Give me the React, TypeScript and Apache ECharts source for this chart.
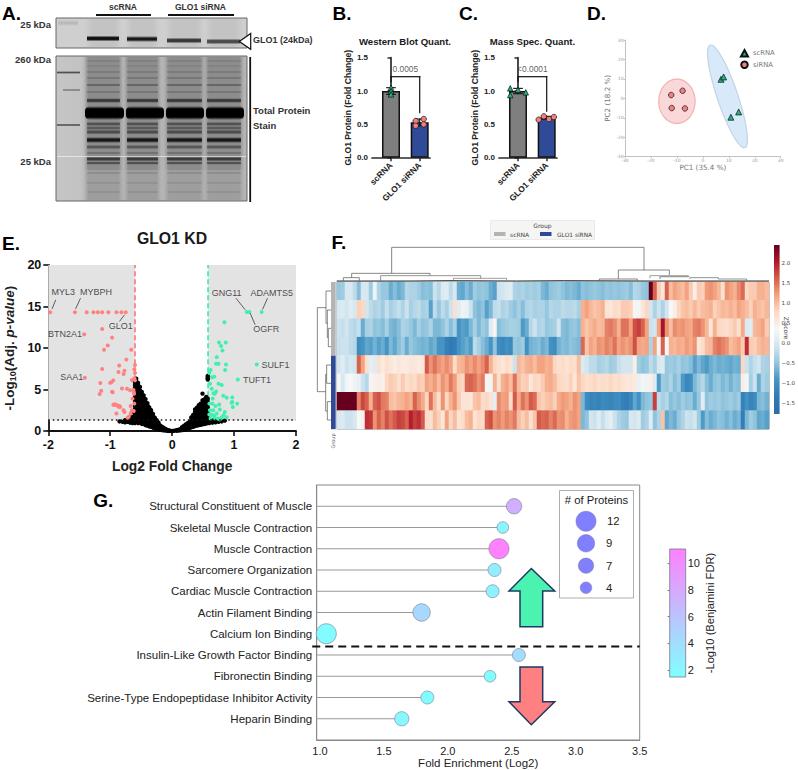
import React, { useEffect, useRef } from "react";
import * as echarts from "echarts";

const SANS = "Liberation Sans, Arial, sans-serif";
const DEJA = "DejaVu Sans, sans-serif";

// ---------- Panels B / C ----------
const barCategories = ["scRNA", "GLO1 siRNA"];
const wbMeans = [1.0, 0.53];
const wbErrors = [0.05, 0.05];
const wbScPoints = [[0, 1.05], [0, 1.0], [0, 0.95]];
const wbSiPoints = [[0.86, 0.55], [1.14, 0.58], [0.86, 0.48], [1.14, 0.5]];
const msMeans = [1.0, 0.6];
const msErrors = [0.04, 0.02];
const msScPoints = [[-0.27, 1.04], [-0.27, 0.94], [0, 1.02], [0.27, 0.98]];
const msSiPoints = [[0.72, 0.57], [0.9, 0.62], [1.08, 0.58], [1.25, 0.61]];

// ---------- Panel D ----------
const pcaScrna = [[7, 9.8], [8, 11], [10.8, -9.7], [13.8, -7]];
const pcaSirna = [[-12.2, 1.7], [-7.8, 3.9], [-12, -5], [-6.9, -5.2]];

// ---------- Panel E ----------
const blackColumns: [number, number[]][] = [
  [-0.85, [1.15]], [-0.8, [1.1]], [-0.76, [1.05, 1.3]], [-0.72, [1.1, 1.4]], [-0.68, [1.0, 1.2, 1.6]],
  [-0.64, [0.95, 1.3, 1.7, 2.3]],
  [-0.6, [0.95, 1.3, 1.65, 2, 2.35, 2.7, 3.05, 3.4, 3.75, 4.1, 4.45, 4.8, 5.15, 5.5, 5.85, 6.1]],
  [-0.58, [1.1, 1.5, 1.85, 2.2, 2.55, 2.9, 3.25, 3.6, 3.95, 4.3, 4.65, 5, 5.35, 5.7, 6, 6.3]],
  [-0.55, [0.95, 1.3, 1.65, 2, 2.35, 2.7, 3.05, 3.4, 3.75, 4.1, 4.45, 4.8, 5.15, 5.5, 5.8]],
  [-0.52, [1, 1.35, 1.7, 2.1, 2.5, 2.85, 3.2, 3.55, 3.9, 4.25, 4.6, 4.9, 5.3]],
  [-0.49, [0.85, 1.2, 1.55, 1.9, 2.3, 2.65, 3, 3.35, 3.7, 4.05, 4.35, 4.7]],
  [-0.46, [0.85, 1.2, 1.6, 1.95, 2.3, 2.65, 3, 3.35, 3.7, 4, 4.3]],
  [-0.43, [0.7, 1.05, 1.4, 1.75, 2.1, 2.45, 2.8, 3.15, 3.5, 3.85]],
  [-0.4, [0.65, 1, 1.35, 1.7, 2.05, 2.4, 2.75, 3.1, 3.35]],
  [-0.37, [0.55, 0.9, 1.25, 1.6, 1.95, 2.3, 2.65, 2.85]],
  [-0.34, [0.5, 0.85, 1.2, 1.55, 1.9, 2.25, 2.5]],
  [-0.31, [0.4, 0.75, 1.1, 1.45, 1.8, 2.05]],
  [-0.28, [0.35, 0.7, 1.05, 1.35, 1.6]],
  [-0.25, [0.3, 0.6, 0.9, 1.2, 1.3]], [-0.22, [0.2, 0.5, 0.8, 1.0]], [-0.19, [0.15, 0.4, 0.65]],
  [-0.16, [0.1, 0.3, 0.5]], [-0.13, [0.08, 0.2, 0.35]], [-0.1, [0.05, 0.15, 0.22]], [-0.07, [0.03, 0.1]],
  [-0.04, [0.01, 0.05]], [0, [0]], [0.03, [0.02]], [0.07, [0.04, 0.1]], [0.1, [0.05, 0.14]], [0.13, [0.08, 0.22]],
  [0.16, [0.12, 0.3, 0.45]], [0.19, [0.15, 0.4, 0.6]], [0.22, [0.2, 0.45, 0.8]], [0.25, [0.3, 0.6, 0.95]],
  [0.28, [0.35, 0.7, 1.1]],
  [0.31, [0.45, 0.8, 1.15, 1.5, 1.65]], [0.34, [0.5, 0.85, 1.2, 1.55, 1.95]],
  [0.37, [0.6, 0.95, 1.3, 1.65, 2.0, 2.3, 2.6]], [0.4, [0.65, 1, 1.35, 1.7, 2.05, 2.4, 2.8]],
  [0.43, [0.7, 1.05, 1.4, 1.75, 2.15, 2.5, 2.8, 3.1]], [0.46, [0.75, 1.1, 1.45, 1.8, 2.2, 2.55, 2.9, 3.3]],
  [0.49, [0.8, 1.15, 1.5, 1.85, 2.25, 2.6, 3.0, 3.35, 3.7, 4.5]], [0.52, [0.85, 1.2, 1.55, 1.9, 2.3, 2.65, 3.0, 3.4, 3.8]],
  [0.55, [0.9, 1.25, 1.6, 2, 2.35, 2.7, 3.05, 3.45, 3.85, 4.1]],
  [0.575, [1, 1.4, 1.8, 2.15, 2.5, 2.85, 3.2, 3.55, 3.9, 6.2, 6.35, 6.5, 6.65]],
  [0.6, [0.95, 1.2]], [0.65, [1.0, 1.3]], [0.7, [1.05, 1.25]], [0.75, [1.1, 1.3]], [0.8, [1.15]], [0.85, [1.25]],
];
const volcanoDown = [
  [-1.97, 14.3], [-1.57, 14.3], [-1.38, 14.3], [-1.27, 14.3], [-1.2, 14.3], [-1.13, 14.3], [-1.03, 14.3], [-0.9, 14.3],
  [-0.82, 14.3], [-0.75, 14.3], [-1.42, 11.65], [-1.13, 12.3], [-0.97, 11.25], [-1.04, 10.3], [-1.1, 9.8], [-0.66, 9.8],
  [-0.74, 8.6], [-0.855, 7.9], [-0.6, 7.95], [-1.13, 7.47], [-0.61, 7.43], [-0.77, 7.26], [-0.866, 7.1], [-0.785, 6.87],
  [-0.6, 7], [-1.41, 6.42], [-0.61, 6.35], [-0.95, 6.1], [-0.98, 5.87], [-1.16, 5.78], [-0.65, 6.15], [-1.145, 4.85],
  [-1.17, 4.45], [-0.97, 4.73], [-0.81, 5.13], [-0.73, 5.1], [-0.68, 4.9], [-0.93, 3.2], [-0.89, 3.1], [-0.84, 2.9],
  [-0.785, 2.5], [-0.9, 2.1], [-0.72, 1.6], [-0.67, 3], [-0.64, 3.9], [-0.65, 2.5], [-0.62, 4.7], [-0.6, 6.1], [-1, 5.82],
  [-0.96, 4.66], [-0.92, 3.2], [-0.865, 2.93], [-0.7, 1.72], [-0.625, 4.94], [-0.615, 4.5], [-0.61, 3.3], [-0.67, 2.1],
  [-0.62, 2.4], [-0.85, 3.0], [-0.77, 2.3], [-0.95, 3.15],
];
const volcanoUp = [
  [1.205, 14.34], [1.247, 14.34], [1.446, 14.34], [0.844, 13.1], [0.758, 10.65], [0.866, 10.65], [0.79, 10.25], [0.812, 9.7],
  [0.72, 8.9], [0.71, 8.1], [0.748, 8.1], [0.87, 8.0], [1.366, 8.0], [0.855, 7.35], [0.62, 7.35], [0.6, 7.0], [0.68, 6.55],
  [0.64, 6.46], [1.06, 6.2], [0.748, 5.7], [0.8, 5.55], [0.61, 5.7], [0.64, 5.1], [0.71, 4.75], [0.667, 4.55], [0.827, 4.25],
  [0.88, 4.0], [0.97, 4.05], [0.97, 3.5], [1.05, 3.3], [0.655, 3.9], [0.76, 3.2], [0.6, 3.3], [0.98, 2.9], [0.69, 4.5],
  [0.665, 2.5], [0.72, 2.1], [0.85, 2.3], [0.88, 1.65], [0.83, 1.9], [0.8, 1.65], [0.695, 1.5], [0.64, 1.95], [0.61, 2.5],
  [0.65, 3.3], [0.74, 1.5], [0.77, 1.4], [0.62, 1.5], [0.96, 3.4], [0.7, 3.0], [0.6, 2.0], [0.68, 1.8], [0.77, 2.6],
];
const volcanoLabels = [
  { name: "MYL3", value: [-1.76, 16.7] }, { name: "MYBPH", value: [-1.23, 16.7] }, { name: "GLO1", value: [-0.83, 12.6] },
  { name: "BTN2A1", value: [-1.73, 11.65] }, { name: "SAA1", value: [-1.62, 6.5] }, { name: "GNG11", value: [0.88, 16.6] },
  { name: "ADAMTS5", value: [1.61, 16.6] }, { name: "OGFR", value: [1.52, 12.3] }, { name: "SULF1", value: [1.67, 8.0] },
  { name: "TUFT1", value: [1.37, 6.2] },
];
const volcanoLeaders = [
  [-1.88, 15.8, -1.94, 14.7], [-1.48, 16, -1.56, 14.7], [-0.77, 14, -0.85, 13.2],
  [1.03, 16, 1.18, 14.6], [1.54, 16, 1.46, 14.65], [1.26, 14.2, 1.34, 12.8],
];

// ---------- Panel F ----------
const heatRow0 = [-.45,-.4,0,0,-.2,-.55,0,0,-.4,.25,-.3,-.45,-.45,-.7,-.55,-.7,-.6,-.25,-.3,-.3,-.4,-.55,-.5,-.55,-.1,-.25,.05,.1,-.2,0,-.7,-.75,-.55,-.7,-.4,-.5,-.45,-.5,-.7,-.8,-.1,-.05,.05,.1,-.3,-.35,-.3,-.4,-.35,-.4,-.35,-.6,-.7,-.5,-.45,-.4,-.5,-.6,-.55,-.6,-.7,-.5,-.55,-.5,-.45,-.5,-.55,-.45,-.5,-.45,-.5,-.45,-.4,-.55,-.25,-.3,-.45,-.5,2.45,1.6,.9,.6,1.6,1,1.2,1.1,1,1.2,.9,.5,.9,.85,1.25,1.3,1.2,1.05,.7,1.3,1.2,1.1,1.35,1.55,.8,.9,.9,1.1,1.1,1];
const heatRow1 = [0,.05,-.05,.1,0,.85,.8,-.05,-.2,-.3,-.25,-.4,-.15,-.35,-.25,-.15,-.3,-.1,-.35,-.25,-.2,-.35,-.3,-.8,-.2,-.45,-.2,-.35,-.1,.7,.1,.25,.2,-.1,-.5,-.6,-.5,-.8,-.6,-.2,-.15,-.3,-.25,-.4,-.5,-.35,-.55,-.3,-.25,-.35,-.3,-.3,-.45,-.25,-.3,-.3,-.2,-.25,-.25,-.2,-.35,1.1,1.2,1.05,.95,1,1.1,.65,.6,.75,.7,.9,.9,.85,.4,.3,.6,.8,-.05,-.3,-.1,-.3,-.05,.35,.5,.8,.95,1,.9,1.05,.9,1,1.05,1.1,.85,.95,1.05,1,1.1,1,1.2,1.1,1,.85,1.1,1,.95,1.05];
const heatRow2 = [-.1,-.15,-.05,-.2,-.25,-.15,-.7,-.35,-.3,-.5,-.45,-.55,-.35,-.6,-.65,-.55,-.3,-.35,-.45,-.6,-.35,-.5,-.45,-.3,-.6,-.6,-.5,-.3,-.55,-.35,-.9,-.8,-.85,-.6,-.35,-.6,-.4,-.5,.1,.4,-.55,-.45,-.4,-.35,-.35,-.4,-.85,-.7,-.25,-.1,-.3,-.25,-.45,-.4,-.35,-.05,-.55,-.6,-.5,-.45,-.55,1.1,.95,1.05,1.15,1,1.05,1.4,1.45,1.35,1.1,1.5,1.5,1.2,1.7,1.8,1.6,1.2,-.1,-.05,1.2,2.1,1.3,1,1.35,1.25,1.3,1.2,1.15,1.4,1.45,1.3,1.05,.6,1.1,.8,.75,.7,.8,.9,.7,1.15,.05,.1,1.05,1.1,1.2,.9];
const heatRow3 = [-.15,-.1,-.1,-.2,-.25,-1,-.9,-.75,-.8,-.65,-.8,-.7,-.9,-.6,-.75,-.55,-.4,-.7,-.45,-.55,-.6,-.65,-.6,-.75,-.65,-.9,-.9,-1.2,-1.3,-1.25,-.9,-.8,-.7,-.85,-.2,-.35,-.55,-.7,-.9,-.5,-1,-1.1,-.95,-1.05,-.45,-.5,-.4,-.95,-.65,-.6,-.55,-.7,-.6,-.95,-1,-.65,-.55,-.6,-.5,-.55,-.6,1.55,.95,1.2,1.1,1.3,1.25,1.4,1.3,1.5,1.2,1.3,1.2,1.3,1.7,1.2,1.15,1.2,-.3,1.2,.4,1.6,.35,1.1,1.05,1.15,1.1,1.25,1.15,1.3,.6,.75,1,1.05,1.4,1.5,1.4,1.3,1,1.1,1.2,.9,1.9,.9,.85,1,1.1,1.05];
const heatRow4 = [-.05,.1,-.1,0,-.05,1.6,1.2,.7,.15,.1,.7,.55,.7,.6,.5,.6,.55,.55,.6,.6,.55,.6,1.65,1.3,1.5,1.3,1.2,1.35,1.2,.75,1.05,1.1,1.3,1.2,1.35,1.2,1.35,1.6,1.1,.8,.7,.6,.75,.65,-.1,1.05,.95,1.1,1.15,1,1.2,1.2,1.1,1.15,.8,.7,.75,.65,.75,.7,1,.05,-.05,-.2,-.2,-.35,-.3,-.25,-.4,-.35,-.15,-.05,-.05,-.05,.5,-.4,-.5,-.45,-.2,-.35,0,.05,-.45,-.4,-.45,-.35,-.5,-.45,-.55,-.8,-.6,-.75,-.85,-.7,-.6,-.7,-.65,-.7,-.75,-.65,-.7,.8,-.1,-.3,-.15,-.05,-.3,-.35];
const heatRow5 = [.3,0,.3,.35,.25,.2,-.1,-.25,.4,.45,.5,.45,.8,.9,.85,.7,.9,.7,.8,.75,.9,.85,1.2,1.1,1.25,1,1.3,1.15,1.45,1.25,.85,.8,1.55,1.6,1.5,1.3,1.45,.4,.3,1.1,.7,1.1,1.2,1,1.5,1,.85,.9,.6,.8,.75,.9,1.1,1.15,1,.8,.75,.7,.85,.6,.95,.8,.7,.75,.8,.7,.75,.7,.8,.7,.75,.65,.6,.6,.55,.2,.3,.25,.5,.05,-.85,-.4,-.45,-.3,-.55,-.4,-.85,-1.1,-1,-.6,-.4,-.25,-.55,-.7,-.5,-.45,-.6,-.5,-.65,-.5,-.55,.5,.3,-.35,-.1,-.7,-.3,-.4];
const heatRow6 = [2.45,2.45,2.45,2.45,2.45,1.4,1.75,1.6,1.1,1.6,1.7,1.45,1.4,1,.95,1.05,1.1,1.2,1.1,1.6,1.35,1.15,.8,1.5,1,.7,1.3,.8,1.1,1.3,.9,.65,.65,.6,.95,1,.75,.8,.65,.15,1.35,1.2,1.25,.75,1.65,1.15,1.5,1.3,1.65,1.55,.95,.85,.95,1,.85,1.15,1.25,1.2,1.1,1.3,1.2,-.6,-1,-1.15,-1.1,-1.2,-1.05,-1.1,-1.15,-1.05,-1,-1.2,-1.25,-1.1,-.75,-.95,-.6,-.5,-.45,1.8,-.2,-.35,-.25,-.55,-.45,-.55,-.4,-.5,-.45,-.7,-.45,.1,-.5,-.4,-.45,-.4,-.5,-.45,-.4,-.5,-.4,-1.2,-.95,-1.15,-1.05,-.6,-.55,-.65];
const heatRow7 = [0,.05,-.1,-.1,0,.35,.45,1.9,1.85,1.3,1.6,1.4,1.7,1.5,1.65,1.8,1.75,1.6,2,1.8,1.9,1.65,.75,.7,1,.85,.6,1.2,.8,1,.65,.75,1,1.1,.65,.8,.75,1.6,1.7,1.3,1.4,1.25,1.4,1.3,1.45,1,.85,1,.7,.95,1.65,1.55,1.6,1.4,1.55,1.3,1.35,1.1,1.25,1.3,1.2,-.6,-.5,-.05,-.1,.1,-.15,.05,.15,-.1,-.3,-.4,-.45,0,-.05,.05,-.4,-.3,.1,-.5,-.3,.95,-.75,-.6,-.7,-.45,-.3,-.1,-.15,-.05,-.4,-.85,-.55,-.7,-.6,-.5,-.55,-.65,-.55,-.7,-.6,-1.25,-.6,-.4,-.5,-.75,-.7,-.8];
const heatRows = [heatRow0, heatRow1, heatRow2, heatRow3, heatRow4, heatRow5, heatRow6, heatRow7];
const heatColors = ["#2a6ea8", "#2f79b5", "#4393c3", "#92c5de", "#d1e5f0", "#f7f7f7", "#fddbc7", "#f4a582", "#d6604d", "#b2182b", "#67001f"];
const zTicks = [-1.5, -1, -0.5, 0, 0.5, 1, 1.5, 2];

// ---------- Panel G ----------
const goTerms = [
  "Structural Constituent of Muscle", "Skeletal Muscle Contraction", "Muscle Contraction", "Sarcomere Organization",
  "Cardiac Muscle Contraction", "Actin Filament Binding", "Calcium Ion Binding", "Insulin-Like Growth Factor Binding",
  "Fibronectin Binding", "Serine-Type Endopeptidase Inhibitor Activity", "Heparin Binding",
];
const goEnrichment = [2.518, 2.43, 2.4, 2.365, 2.35, 1.795, 1.05, 2.555, 2.33, 1.84, 1.64];
const goProteins = [7, 4, 12, 5, 5, 9, 12, 5, 4, 5, 6];
const goFdr = [7.5, 2.2, 11, 2.8, 2.5, 4.5, 1.7, 4, 1.6, 1.6, 2];
const foldTicks = [1, 1.5, 2, 2.5, 3, 3.5];
const fdrTicks = [2, 4, 6, 8, 10];
const proteinLegend = [12, 9, 7, 4];

const t = (text: string, x: number, y: number, fontSize: number, o: any = {}) => ({
  type: "text", x, y, z: 20, silent: true, rotation: o.rotation || 0,
  style: {
    text, fontSize, fontFamily: o.fontFamily || SANS, fontWeight: o.fontWeight || "normal",
    fill: o.fill || "#1a1a1a", textAlign: o.align || "left", textVerticalAlign: "middle",
  },
});
const r = (x: number, y: number, width: number, height: number, style: any, z = 1, corner = 0) => ({
  type: "rect", z, silent: true, shape: { x, y, width, height, r: corner }, style,
});
const pl = (points: number[][], stroke = "#555", lineWidth = 0.7) => ({
  type: "polyline", z: 5, silent: true, shape: { points }, style: { stroke, lineWidth, fill: "none" },
});
const vGrad = (stops: [number, string][]) =>
  new echarts.graphic.LinearGradient(0, 0, 0, 1, stops.map(([offset, color]) => ({ offset, color })));
const hGrad = (stops: [number, string][]) =>
  new echarts.graphic.LinearGradient(0, 0, 1, 0, stops.map(([offset, color]) => ({ offset, color })));

function blotGraphics() {
  const out: any[] = [];
  const lanes = [[87, 120], [127, 158], [167, 202], [207, 241]];
  const wideLanes = [[85, 124], [126, 164], [166, 204], [206, 244]];
  const band = (x0: number, x1: number, y: number, h: number, d: number) =>
    r(x0, y - h, x1 - x0, h * 2, {
      fill: vGrad([[0, `rgba(0,0,0,0)`], [0.35, `rgba(0,0,0,${d})`], [0.65, `rgba(0,0,0,${d})`], [1, `rgba(0,0,0,0)`]]),
    });
  // top blot
  out.push(r(56, 18, 191, 30, { fill: "#cfcfcf" }));
  lanes.forEach(([a, b]) => out.push(r(a - 2, 19, b - a + 4, 28, {
    fill: hGrad([[0, "rgba(120,120,120,0)"], [0.2, "rgba(120,120,120,.14)"], [0.8, "rgba(120,120,120,.14)"], [1, "rgba(120,120,120,0)"]]),
  })));
  out.push(band(58, 78, 23, 3, 0.1));
  const topDark = [0.92, 0.88, 0.72, 0.62];
  const topY = [38.5, 39, 40.5, 41.5];
  lanes.forEach(([a, b], i) => out.push(band(a, b - 1, topY[i], 3, topDark[i])));
  out.push(r(56, 18, 191, 30, { fill: "none", stroke: "#666", lineWidth: 1 }));
  // lower blot
  out.push(r(56, 56, 191, 145, { fill: hGrad([[0, "#c6c6c6"], [0.13, "#c2c2c2"], [0.16, "#b4b4b4"], [1, "#b4b4b4"]]) }));
  lanes.forEach(([a, b]) => {
    out.push(r(a - 3, 57, b - a + 6, 143, {
      fill: hGrad([[0, "rgba(70,70,70,0)"], [0.12, "rgba(70,70,70,.2)"], [0.88, "rgba(70,70,70,.2)"], [1, "rgba(70,70,70,0)"]]),
    }));
    out.push(r(a - 3, 57, b - a + 6, 113, {
      fill: hGrad([[0, "rgba(70,70,70,0)"], [0.12, "rgba(70,70,70,.2)"], [0.88, "rgba(70,70,70,.2)"], [1, "rgba(70,70,70,0)"]]),
    }));
  });
  const lowerBands = [[61, 1.3, 0.1], [66, 1.3, 0.08], [72, 1.3, 0.14], [78, 1.3, 0.18], [85, 1.6, 0.28], [92, 1.3, 0.18], [100.5, 2.4, 0.62],
    [124, 2.2, 0.42], [128, 2, 0.36], [132, 2.6, 0.45], [140, 3, 0.85], [147, 2.2, 0.38], [153, 1.6, 0.2], [159, 2.4, 0.58], [163, 1.8, 0.42],
    [173, 1.6, 0.1], [183, 1.6, 0.08], [192, 1.6, 0.08]];
  lanes.forEach(([a, b]) => lowerBands.forEach(([y, h, d]) => out.push(band(a, b, y, h, d))));
  wideLanes.forEach(([a, b]) => out.push(
    r(a, 106, b - a, 14, { fill: vGrad([[0, "rgba(0,0,0,0)"], [0.2, "rgba(0,0,0,1)"], [0.8, "rgba(0,0,0,1)"], [1, "rgba(0,0,0,0)"]]) }, 1, 5),
  ));
  out.push(band(57, 80, 72.5, 1.4, 0.6), band(63, 80, 90, 1.4, 0.3), band(57, 80, 125, 1.4, 0.5));
  out.push(r(57, 156.3, 189, 0.7, { fill: "rgba(255,255,255,.75)" }));
  out.push(r(56, 56, 191, 145, { fill: "none", stroke: "#666", lineWidth: 1 }));
  // annotations
  out.push(r(96, 14, 55, 2, { fill: "#111" }), r(168, 14, 66, 2, { fill: "#111" }));
  out.push(r(249.3, 57, 1.8, 145, { fill: "#111" }));
  out.push({ type: "polygon", z: 6, silent: true, shape: { points: [[239.3, 41.5], [250.7, 33.5], [250.7, 49.3]] }, style: { fill: "#fff", stroke: "#111", lineWidth: 1.2 } });
  out.push(
    t("scRNA", 123, 6.5, 8.5, { fontWeight: "bold", align: "center", fill: "#333" }),
    t("GLO1 siRNA", 200.5, 6.5, 8.5, { fontWeight: "bold", align: "center", fill: "#333" }),
    t("25 kDa", 51, 24, 9.5, { fontWeight: "bold", align: "right", fill: "#333" }),
    t("260 kDa", 51, 59, 9.5, { fontWeight: "bold", align: "right", fill: "#333" }),
    t("25 kDa", 51, 161, 9.5, { fontWeight: "bold", align: "right", fill: "#333" }),
    t("GLO1 (24kDa)", 253, 40, 9, { fontWeight: "bold", fill: "#333" }),
    t("Total Protein", 253, 110.5, 9.5, { fontWeight: "bold", fill: "#333" }),
    t("Stain", 253, 125.5, 9.5, { fontWeight: "bold", fill: "#333" }),
  );
  return out;
}

function heatDecorations() {
  const fx = (z: number) => 310 + z / 3;
  const fy = (z: number) => 215 + z / 3;
  const path = (pts: number[][], c = "#555", w = 0.7) => pl(pts.map(([a, b]) => [fx(a), fy(b)]), c, w);
  return [
    path([[245, 175], [245, 97], [1002, 97], [1002, 165]], "#666", 0.8),
    path([[125, 188], [125, 175], [360, 175], [360, 182]]),
    path([[100, 197], [100, 188], [148, 188], [148, 197]]),
    path([[212, 197], [212, 182], [512, 182], [512, 190]], "#888", 0.9),
    path([[430, 195], [430, 190], [590, 190], [590, 195]], "#777"),
    path([[925, 192], [925, 165], [1078, 165], [1078, 180]]),
    path([[868, 196], [868, 192], [982, 192], [982, 196]], "#555"),
    path([[1020, 190], [1020, 182], [1135, 182], [1135, 186]], "#777"),
    path([[1050, 192], [1050, 185], [1138, 185]], "#999", 1.2),
    path([[1140, 192], [1140, 188], [1225, 188], [1225, 192]], "#666"),
    path([[1225, 192], [1310, 192], [1310, 196]], "#666"),
    path([[80, 198], [300, 198], [420, 197], [620, 198], [760, 197], [1020, 198], [1377, 198]], "#333", 1),
    path([[63, 228], [48, 228], [48, 325], [52, 325]]),
    path([[63, 285], [52, 285], [52, 368], [55, 368]]),
    path([[63, 340], [55, 340], [55, 395], [63, 395]]),
    path([[48, 278], [22, 278], [22, 530], [47, 530]]),
    path([[63, 450], [50, 450], [50, 505], [63, 505]]),
    path([[50, 478], [47, 478], [47, 588], [52, 588]]),
    path([[63, 560], [52, 560], [52, 615], [63, 615]]),
    r(331, 282, 4.7, 73.7, { fill: "#b4b4b4" }, 3),
    r(331, 355.7, 4.7, 73.5, { fill: "#2f4b97" }, 3),
    t("Group", 333.3, 441, 5, { rotation: Math.PI / 2, align: "center", fill: "#666", fontFamily: DEJA }),
    r(490.5, 220.5, 104, 19, { fill: "#f5f5f3", stroke: "#e2e2e2", lineWidth: 0.7 }, 3),
    t("Group", 542.5, 225.5, 6, { align: "center", fontFamily: DEJA, fill: "#444" }),
    r(494, 232, 11.5, 4, { fill: "#b4b4b4" }, 4),
    t("scRNA", 510, 234.5, 6, { fontFamily: DEJA, fill: "#444" }),
    r(540, 232, 11.5, 4, { fill: "#2f4b97" }, 4),
    t("GLO1 siRNA", 557, 234.5, 5.9, { fontFamily: DEJA, fill: "#444" }),
    t("Z-score", 786, 328, 6, { rotation: -Math.PI / 2, align: "center", fill: "#444", fontFamily: DEJA }),
  ];
}

function goDecorations() {
  const legendY = [521.3, 543.3, 565.7, 587.7];
  const out: any[] = [
    r(559.5, 490.5, 74, 107.5, { fill: "#fff", stroke: "#999", lineWidth: 0.8 }, 8),
    t("# of Proteins", 596.5, 500, 11.3, { align: "center" }),
    { type: "polygon", z: 8, silent: true, shape: { points: [[531.3, 568.5], [554.7, 591], [542.7, 591], [542.7, 626.7], [520, 626.7], [520, 591], [509, 591]] }, style: { fill: "#4bf2b0", stroke: "#1f3864", lineWidth: 1.5 } },
    { type: "polygon", z: 8, silent: true, shape: { points: [[520, 667], [542.7, 667], [542.7, 701.7], [554.7, 701.7], [531.3, 724.7], [509, 701.7], [520, 701.7]] }, style: { fill: "#ff8080", stroke: "#1f3864", lineWidth: 1.5 } },
  ];
  proteinLegend.forEach((n, i) => {
    out.push({ type: "circle", z: 9, silent: true, shape: { cx: 586, cy: legendY[i], r: (5.8 * Math.sqrt(n)) / 2 }, style: { fill: "#8080ff", stroke: "#7777aa", lineWidth: 0.5 } });
    out.push(t(String(n), i === 0 ? 607 : 606, legendY[i], 11.3, { fill: "#222" }));
  });
  return out;
}

function buildOption() {
  const grids: any[] = [];
  const xAxes: any[] = [];
  const yAxes: any[] = [];
  const series: any[] = [];

  const addGrid = (g: any, x: any, y: any) => {
    const i = grids.length;
    grids.push({ containLabel: false, ...g });
    xAxes.push({ gridIndex: i, ...x });
    yAxes.push({ gridIndex: i, ...y });
    return i;
  };
  const segs = (gi: number, data: number[][], style: any) => ({
    type: "custom", coordinateSystem: "cartesian2d", xAxisIndex: gi, yAxisIndex: gi, clip: false, silent: true, data,
    encode: { x: [0, 2], y: [1, 3] }, z: style.z || 3,
    renderItem: (_: any, api: any) => {
      const a = api.coord([api.value(0), api.value(1)]);
      const b = api.coord([api.value(2), api.value(3)]);
      return { type: "line", shape: { x1: a[0], y1: a[1], x2: b[0], y2: b[1] }, style: { stroke: style.stroke, lineWidth: style.lineWidth, lineDash: style.lineDash, lineCap: style.lineCap || "square" } };
    },
  });
  const textLabels = (gi: number, data: any[], fontSize: number, color: string, fontFamily = SANS) => ({
    type: "scatter", xAxisIndex: gi, yAxisIndex: gi, symbolSize: 0, silent: true, data, z: 6,
    label: { show: true, position: "inside", formatter: "{b}", fontSize, color, fontFamily },
  });

  // Panels B and C
  const barPanel = (left: number, means: number[], errs: number[], sc: number[][], si: number[][], bracket: number[], p: string) => {
    const gi = addGrid(
      { left, top: 57.7, width: 58, height: 100 },
      {
        type: "value", min: -0.662, max: 1.359, splitLine: { show: false },
        axisLine: { onZero: false, lineStyle: { color: "#2b2b2b", width: 1.7 } },
        axisTick: { customValues: [0, 1], length: 3.5, lineStyle: { color: "#2b2b2b", width: 1.5 } },
        axisLabel: { customValues: [0, 1], rotate: 45, margin: 6, fontSize: 8.5, fontWeight: "bold", fontFamily: SANS, color: "#222", formatter: (v: number) => barCategories[v] },
      },
      {
        type: "value", min: 0, max: 1.5, interval: 0.5, splitLine: { show: false },
        name: "GLO1 Protein (Fold Change)", nameLocation: "middle", nameGap: 19,
        nameTextStyle: { fontSize: 8.6, fontWeight: "bold", fontFamily: SANS, color: "#222" },
        axisLine: { show: true, lineStyle: { color: "#2b2b2b", width: 1.7 } },
        axisTick: { show: true, length: 3.5, lineStyle: { color: "#2b2b2b", width: 1.5 } },
        axisLabel: { margin: 4, fontSize: 8, fontWeight: "bold", fontFamily: SANS, color: "#222", formatter: (v: number) => v.toFixed(1) },
      },
    );
    series.push({
      type: "bar", xAxisIndex: gi, yAxisIndex: gi, barWidth: 18, silent: true,
      data: means.map((m, i) => ({ value: [i, m], itemStyle: { color: i === 0 ? "#7f7f7f" : "#2f4b97", borderColor: "#111", borderWidth: 1.5 } })),
    });
    const capB = 0.15;
    series.push(segs(gi, means.flatMap((m, i) => [
      [i, m - errs[i], i, m + errs[i]], [i - capB, m + errs[i], i + capB, m + errs[i]], [i - capB, m - errs[i], i + capB, m - errs[i]],
    ]), { stroke: "#111", lineWidth: 1.1, z: 3 }));
    series.push({ type: "scatter", name: `${p} sc`, xAxisIndex: gi, yAxisIndex: gi, symbol: "triangle", symbolSize: 5.5, silent: true, z: 5, data: sc, itemStyle: { color: "#1fb284", borderColor: "#111", borderWidth: 0.7, opacity: 1 } });
    series.push({ type: "scatter", name: `${p} si`, xAxisIndex: gi, yAxisIndex: gi, symbol: "circle", symbolSize: 5.5, silent: true, z: 5, data: si, itemStyle: { color: "#f08080", borderColor: "#111", borderWidth: 0.7, opacity: 1 } });
    series.push(segs(gi, [[0, bracket[0], 0, bracket[1]], [0, bracket[1], 1, bracket[1]], [1, bracket[1], 1, bracket[2]]], { stroke: "#111", lineWidth: 1.2, z: 4 }));
    return gi;
  };
  const gB = barPanel(372, wbMeans, wbErrors, wbScPoints, wbSiPoints, [1.14, 1.215, 0.675], "wb");
  series.push(textLabels(gB, [{ name: "0.0005", value: [0.5, 1.33] }], 8.4, "#333"));
  const gC = barPanel(499, msMeans, msErrors, msScPoints, msSiPoints, [1.14, 1.215, 0.7], "ms");
  series.push(textLabels(gC, [{ name: "<0.0001", value: [0.5, 1.33] }], 8.4, "#333"));

  // Panel D
  const gD = addGrid(
    { left: 625, top: 40, width: 155.7, height: 116.7 },
    {
      type: "value", min: -30, max: 30, interval: 10, splitLine: { show: false }, name: "PC1 (35.4 %)", nameLocation: "middle", nameGap: 6.5,
      nameTextStyle: { fontSize: 7.2, fontFamily: DEJA, color: "#777" },
      axisLine: { onZero: false, lineStyle: { color: "#c2c2c2", width: 1 } }, axisTick: { length: 1.5, lineStyle: { color: "#c2c2c2" } },
      axisLabel: { fontSize: 4.5, margin: 1.5, fontFamily: DEJA, color: "#999" },
    },
    {
      type: "value", min: -30, max: 30, interval: 10, splitLine: { show: false }, name: "PC2 (18.2 %)", nameLocation: "middle", nameGap: 14,
      nameTextStyle: { fontSize: 7.2, fontFamily: DEJA, color: "#777" },
      axisLine: { show: true, onZero: false, lineStyle: { color: "#c2c2c2", width: 1 } }, axisTick: { show: true, length: 1.5, lineStyle: { color: "#c2c2c2" } },
      axisLabel: { fontSize: 4.5, margin: 1.5, fontFamily: DEJA, color: "#999" },
    },
  );
  series.push({
    type: "custom", coordinateSystem: "cartesian2d", xAxisIndex: gD, yAxisIndex: gD, silent: true, clip: false,
    data: [[-10, -1.5, -10, 9.9, 0.82, 0], [9.5, 1, 2.8, 27.4, 0.19, 1]],
    renderItem: (_: any, api: any) => {
      const c = api.coord([api.value(0), api.value(1)]);
      const e = api.coord([api.value(2), api.value(3)]);
      const ux = e[0] - c[0], uy = e[1] - c[1], ratio = api.value(4);
      const points: number[][] = [];
      for (let i = 0; i < 60; i++) {
        const a = (i / 60) * Math.PI * 2;
        points.push([c[0] + Math.cos(a) * ux - Math.sin(a) * uy * ratio, c[1] + Math.cos(a) * uy + Math.sin(a) * ux * ratio]);
      }
      const pink = api.value(5) === 0;
      return { type: "polygon", shape: { points }, style: { fill: pink ? "rgba(243,160,165,.42)" : "rgba(190,220,245,.6)", stroke: pink ? "#f4b0b0" : "#c3d3e6", lineWidth: 1.2 } };
    },
  });
  series.push({ type: "scatter", name: "scRNA", xAxisIndex: gD, yAxisIndex: gD, symbol: "triangle", symbolSize: 6, silent: true, data: pcaScrna, itemStyle: { color: "#1fb284", borderColor: "#111", borderWidth: 0.7, opacity: 1 } });
  series.push({ type: "scatter", name: "siRNA", xAxisIndex: gD, yAxisIndex: gD, symbol: "circle", symbolSize: 5.5, silent: true, data: pcaSirna, itemStyle: { color: "#f07f80", borderColor: "#111", borderWidth: 0.7, opacity: 1 } });

  // Panel E
  const gE = addGrid(
    { left: 48.3, top: 265, width: 247.7, height: 166 },
    {
      type: "value", min: -2, max: 2, interval: 1, splitLine: { show: false }, name: "Log2 Fold Change", nameLocation: "middle", nameGap: 28,
      nameTextStyle: { fontSize: 13.8, fontWeight: "bold", fontFamily: SANS, color: "#222" },
      axisLine: { onZero: false, lineStyle: { color: "#111", width: 1.8 } }, axisTick: { length: 5, lineStyle: { color: "#111", width: 1.6 } },
      axisLabel: { fontSize: 12.5, fontWeight: "bold", margin: 7, fontFamily: SANS, color: "#111" },
    },
    {
      type: "value", min: 0, max: 20, interval: 5, splitLine: { show: false },
      name: "{a|-Log}{s|10}{a|(Adj. }{i|p-value}{a|)}", nameLocation: "middle", nameGap: 31,
      nameTextStyle: { rich: {
        a: { fontSize: 13.5, fontWeight: "bold", fontFamily: SANS, color: "#222" },
        s: { fontSize: 9, fontWeight: "bold", fontFamily: SANS, color: "#222", padding: [7, 0, 0, 0] },
        i: { fontSize: 13.5, fontWeight: "bold", fontStyle: "italic", fontFamily: SANS, color: "#222" },
      } },
      axisLine: { show: true, onZero: false, lineStyle: { color: "#111", width: 1.8 } }, axisTick: { show: true, length: 5, lineStyle: { color: "#111", width: 1.6 } },
      axisLabel: { fontSize: 12.5, fontWeight: "bold", margin: 7, fontFamily: SANS, color: "#111" },
    },
  );
  const blackPts = blackColumns.flatMap(([x, ys]) => ys.map((y) => [x, y]));
  series.push({
    type: "scatter", xAxisIndex: gE, yAxisIndex: gE, symbolSize: 4.4, silent: true, z: 3, data: blackPts, itemStyle: { color: "#000", opacity: 1 },
    markArea: { silent: true, itemStyle: { color: "#e3e3e3" }, z: 1, data: [[{ coord: [-2, 1.3] }, { coord: [-0.6, 20] }], [{ coord: [0.58, 1.3] }, { coord: [2, 20] }]] },
  });
  series.push({ type: "scatter", xAxisIndex: gE, yAxisIndex: gE, symbolSize: 4, silent: true, z: 4, data: volcanoDown, itemStyle: { color: "#ff8282", opacity: 1 } });
  series.push({ type: "scatter", xAxisIndex: gE, yAxisIndex: gE, symbolSize: 4, silent: true, z: 4, data: volcanoUp, itemStyle: { color: "#3ff0ae", opacity: 1 } });
  series.push(segs(gE, [[-0.6, 1.3, -0.6, 20]], { stroke: "#ff8282", lineWidth: 1.8, lineDash: [5, 3], lineCap: "butt", z: 2 }));
  series.push(segs(gE, [[0.58, 1.3, 0.58, 20]], { stroke: "#3ff0ae", lineWidth: 1.8, lineDash: [5, 3], lineCap: "butt", z: 2 }));
  series.push(segs(gE, [[-2, 1.33, 2, 1.33]], { stroke: "#111", lineWidth: 1.4, lineDash: [1.5, 3], lineCap: "butt", z: 5 }));
  series.push(segs(gE, volcanoLeaders, { stroke: "#222", lineWidth: 0.7, lineCap: "butt", z: 5 }));
  series.push(textLabels(gE, volcanoLabels, 9, "#222"));

  // Panel F
  const gF = addGrid(
    { left: 337, top: 282, width: 432, height: 147, show: true, borderColor: "#555", borderWidth: 0.7, backgroundColor: "transparent" },
    { type: "category", data: heatRows[0].map((_, i) => i), show: false },
    { type: "category", data: heatRows.map((_, i) => i), inverse: true, show: false },
  );
  const heatIndex = series.length;
  series.push({
    type: "heatmap", xAxisIndex: gF, yAxisIndex: gF, silent: true, progressive: 0,
    data: heatRows.flatMap((row, y) => row.map((v, x) => [x, y, v])),
    itemStyle: { borderWidth: 0 },
  });
  const colorBar = (gi: number, lo: number, hi: number, colors: string[], stroke: string) => ({
    type: "custom", coordinateSystem: "cartesian2d", xAxisIndex: gi, yAxisIndex: gi, silent: true, clip: false, z: 2,
    data: [[0, lo, hi]],
    renderItem: (_: any, api: any) => {
      const a = api.coord([0, api.value(2)]);
      const b = api.coord([1, api.value(1)]);
      const n = colors.length - 1;
      return {
        type: "rect", shape: { x: a[0], y: a[1], width: b[0] - a[0], height: b[1] - a[1] },
        style: { stroke, lineWidth: stroke === "none" ? 0 : 0.8, fill: new echarts.graphic.LinearGradient(0, 0, 0, 1, colors.map((c, i) => ({ offset: 1 - i / n, color: c })).reverse()) },
      };
    },
  });
  const gFc = addGrid(
    { left: 774, top: 245, width: 5.6, height: 169 },
    { type: "value", min: 0, max: 1, show: false },
    {
      type: "value", position: "right", min: -1.77, max: 2.46, splitLine: { show: false },
      axisLine: { show: false }, axisTick: { show: true, customValues: zTicks, length: 1.5, lineStyle: { color: "#555", width: 0.5 } },
      axisLabel: { customValues: zTicks, fontSize: 5.5, margin: 2, fontFamily: DEJA, color: "#444", formatter: (v: number) => v.toFixed(1).replace("-", "\u2212") },
    },
  );
  series.push(colorBar(gFc, -1.77, 2.46, heatColors, "none"));

  // Panel G
  const gG = addGrid(
    { left: 316.7, top: 485, width: 323, height: 256, show: true, borderColor: "#888", borderWidth: 1, backgroundColor: "transparent" },
    {
      type: "value", min: 0.975, max: 3.5, splitLine: { show: false }, name: "Fold Enrichment (Log2)", nameLocation: "middle", nameGap: 17,
      nameTextStyle: { fontSize: 11.5, fontFamily: SANS, color: "#222" },
      axisLine: { onZero: false, lineStyle: { color: "#888" } }, axisTick: { show: false, customValues: foldTicks },
      axisLabel: { customValues: foldTicks, fontSize: 11, margin: 5, fontFamily: SANS, color: "#222", formatter: (v: number) => v.toFixed(1) },
    },
    {
      type: "value", min: 0, max: 12, interval: 1, inverse: true, splitLine: { show: false },
      axisLine: { show: true, onZero: false, lineStyle: { color: "#888" } }, axisTick: { show: false },
      axisLabel: { fontSize: 11.5, margin: 4.5, fontFamily: SANS, color: "#222", formatter: (v: number) => goTerms[v - 1] || "" },
    },
  );
  series.push(segs(gG, goEnrichment.map((x, i) => [0.975, i + 1, x, i + 1]), { stroke: "#999", lineWidth: 1.2, lineCap: "butt", z: 2 }));
  const goIndex = series.length;
  series.push({
    type: "scatter", xAxisIndex: gG, yAxisIndex: gG, silent: true, z: 4, clip: false,
    data: goEnrichment.map((x, i) => [x, i + 1, goProteins[i], goFdr[i]]),
    symbolSize: (v: number[]) => 5.8 * Math.sqrt(v[2]),
    itemStyle: { opacity: 1, borderColor: "#8a8a9a", borderWidth: 0.7 },
  });
  series.push(segs(gG, [[0.94, 7.6, 3.5, 7.6]], { stroke: "#111", lineWidth: 1.8, lineDash: [8, 5], lineCap: "butt", z: 5 }));
  const gGc = addGrid(
    { left: 669.7, top: 549, width: 16, height: 128 },
    { type: "value", min: 0, max: 1, show: false },
    {
      type: "value", position: "right", min: 1.48, max: 11.05, splitLine: { show: false },
      name: "-Log10 (Benjamini FDR)", nameLocation: "middle", nameRotate: 90, nameGap: 19,
      nameTextStyle: { fontSize: 11.2, fontFamily: SANS, color: "#222" },
      axisLine: { show: false }, axisTick: { show: true, customValues: fdrTicks, inside: true, length: 2, lineStyle: { color: "#555", width: 0.8 } },
      axisLabel: { customValues: fdrTicks, fontSize: 11, margin: 2, fontFamily: SANS, color: "#222" },
    },
  );
  series.push(colorBar(gGc, 1.48, 11.05, ["#80ffff", "#ff80ff"], "#77778a"));

  const letters = [["A.", 2, 13], ["B.", 332.5, 13], ["C.", 459, 13], ["D.", 587, 13], ["E.", 2, 243], ["F.", 331.5, 242], ["G.", 93.3, 500]];
  return {
    animation: false,
    backgroundColor: "#fff",
    textStyle: { fontFamily: SANS },
    grid: grids,
    xAxis: xAxes,
    yAxis: yAxes,
    series,
    visualMap: [
      { type: "continuous", show: false, seriesIndex: heatIndex, dimension: 2, min: -1.75, max: 2.45, inRange: { color: heatColors } },
      { type: "continuous", show: false, seriesIndex: goIndex, dimension: 3, min: 1.48, max: 11.05, inRange: { color: ["#80ffff", "#ff80ff"] } },
    ],
    legend: {
      data: [{ name: "scRNA", icon: "triangle" }, { name: "siRNA", icon: "circle" }], left: 735, top: 44, orient: "vertical",
      itemWidth: 7, itemHeight: 6.5, itemGap: 3, selectedMode: false, textStyle: { fontSize: 6.8, color: "#777", fontFamily: DEJA },
    },
    graphic: [
      ...blotGraphics(),
      ...heatDecorations(),
      ...goDecorations(),
      ...letters.map(([s, x, y]) => t(s as string, x as number, y as number, 19, { fontWeight: "bold", fill: "#000" })),
      t("Western Blot Quant.", 405, 41.5, 9.6, { fontWeight: "bold", align: "center" }),
      t("Mass Spec. Quant.", 532.5, 41.5, 9.6, { fontWeight: "bold", align: "center" }),
      t("GLO1 KD", 172, 238, 15.8, { fontWeight: "bold", align: "center" }),
    ],
  };
}

export default function App() {
  const ref = useRef<HTMLDivElement>(null);
  useEffect(() => {
    if (!ref.current) return;
    const chart = echarts.init(ref.current, undefined, { renderer: "svg" });
    chart.setOption(buildOption() as any);
    return () => chart.dispose();
  }, []);
  return <div ref={ref} style={{ position: "absolute", left: 0, top: 0, width: 798, height: 770 }} />;
}
